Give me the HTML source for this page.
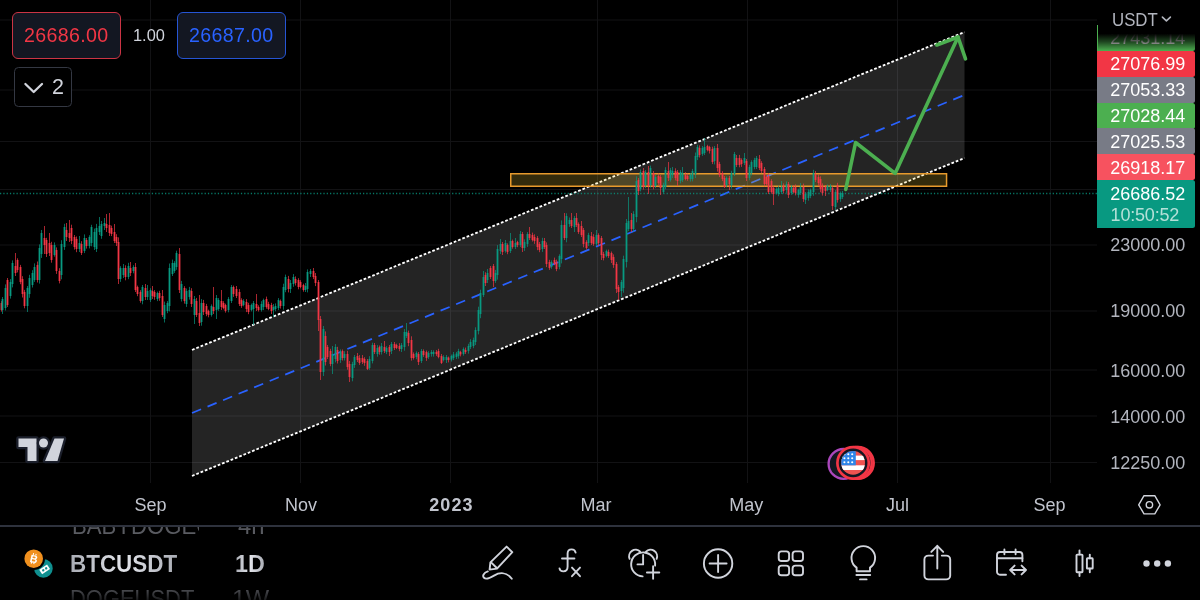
<!DOCTYPE html>
<html lang="en"><head><meta charset="utf-8"><title>BTCUSDT 1D chart</title>
<style>
html,body{margin:0;padding:0;background:#000;}
body{width:1200px;height:600px;overflow:hidden;position:relative;font-family:"Liberation Sans",sans-serif;color:#d1d4dc;}
#chart{position:absolute;left:0;top:0;width:1200px;height:600px;}
.abs{position:absolute;white-space:nowrap;}
.btn{position:absolute;box-sizing:border-box;border-radius:6px;background:#131722;text-align:center;}
.sell{left:12px;top:12px;width:108.5px;height:46.5px;border:1.6px solid #cb3444;color:#f23645;font-size:19.6px;line-height:44px;letter-spacing:0.35px;}
.buy{left:177px;top:12px;width:108.5px;height:46.5px;border:1.6px solid #2655d4;color:#2962ff;font-size:19.6px;line-height:44px;letter-spacing:0.35px;}
.spread{left:133px;top:25.5px;font-size:16.4px;line-height:19px;color:#d1d4dc;}
.coll{left:14px;top:67px;width:58px;height:40px;box-sizing:border-box;border:1.3px solid #343843;border-radius:4.5px;background:#000;}
.coll span{position:absolute;left:37px;top:6.5px;font-size:21.5px;line-height:25px;color:#d1d4dc;}
.plab{position:absolute;left:1097.3px;width:97.3px;border-radius:0 2.5px 2.5px 0;}
.ptxt{position:absolute;font-size:18px;line-height:20px;white-space:nowrap;}
.tl{position:absolute;top:494px;width:80px;text-align:center;font-size:18px;line-height:22px;color:#c1c4cd;}
#bar{position:absolute;left:0;top:527px;width:1200px;height:73px;background:#000;overflow:hidden;}
#sep{position:absolute;left:0;top:525px;width:1200px;height:2px;background:#2e323d;}
.wr{position:absolute;font-size:23.8px;line-height:28px;white-space:nowrap;}
.dim{color:#66686f;}
.sq{display:inline-block;transform-origin:0 0;}
.sel{font-weight:bold;color:#d1d4dc;background:linear-gradient(90deg,#a9acb4 0%,#e4e6ec 50%,#a9acb4 100%);-webkit-background-clip:text;background-clip:text;-webkit-text-fill-color:transparent;}
</style></head><body>
<svg id="chart" viewBox="0 0 1200 600" width="1200" height="600">
<path d="M150.5 0V483" stroke="#121214" stroke-width="1"/><path d="M300.5 0V483" stroke="#121214" stroke-width="1"/><path d="M450.5 0V483" stroke="#121214" stroke-width="1"/><path d="M597.5 0V483" stroke="#121214" stroke-width="1"/><path d="M747.5 0V483" stroke="#121214" stroke-width="1"/><path d="M897.5 0V483" stroke="#121214" stroke-width="1"/><path d="M1050.5 0V483" stroke="#121214" stroke-width="1"/><path d="M0 20H1097" stroke="#121214" stroke-width="1"/><path d="M0 90H1097" stroke="#121214" stroke-width="1"/><path d="M0 141.5H1097" stroke="#121214" stroke-width="1"/><path d="M0 189.5H1097" stroke="#121214" stroke-width="1"/><path d="M0 245H1097" stroke="#121214" stroke-width="1"/><path d="M0 311H1097" stroke="#121214" stroke-width="1"/><path d="M0 370H1097" stroke="#121214" stroke-width="1"/><path d="M0 416H1097" stroke="#121214" stroke-width="1"/><path d="M0 462.5H1097" stroke="#121214" stroke-width="1"/>
<polygon points="192,350 964.5,32 964.5,158 192,476" fill="#ffffff" fill-opacity="0.14"/>
<path d="M192 413.0L964.5 95.0" stroke="#2962ff" stroke-width="1.75" stroke-dasharray="9.8 7.0" fill="none"/>
<path d="M192 350L964.5 32" stroke="#ffffff" stroke-width="1.85" stroke-dasharray="2.75 1.89" fill="none"/>
<path d="M192 476L964.5 158" stroke="#ffffff" stroke-width="1.85" stroke-dasharray="2.75 1.89" fill="none"/>
<rect x="510.75" y="173.75" width="435.8" height="12.5" fill="#ffd83c" fill-opacity="0.2" stroke="#e79a2c" stroke-width="1.5"/>
<path d="M0 193.5H1097" stroke="#089981" stroke-width="1.5" stroke-dasharray="1.25 2.05" fill="none" opacity="0.78"/>
<path d="M2.5 297.0V314.0M5.5 284.4V310.5M10.5 279.1V298.6M12.5 260.4V287.4M27.5 286.0V312.0M29.5 274.8V297.8M32.5 270.2V287.5M34.5 263.4V281.9M39.5 244.4V283.6M41.5 230.0V257.9M54.5 242.4V256.7M61.5 240.2V279.3M64.5 223.8V249.9M79.5 236.0V252.0M84.5 234.4V253.1M89.5 235.2V248.4M91.5 224.8V246.3M94.5 228.6V250.0M96.5 223.9V252.0M99.5 217.0V235.0M101.5 221.0V238.8M104.5 218.0V230.0M120.5 266.2V281.9M123.5 264.0V278.0M128.5 262.8V279.2M133.5 265.2V273.3M142.5 285.0V304.3M147.5 285.0V300.0M150.5 288.2V302.0M157.5 291.6V301.1M164.5 301.6V322.5M167.5 301.1V313.2M169.5 263.5V311.4M172.5 259.6V276.0M174.5 261.2V272.9M176.5 250.7V269.8M181.5 280.9V301.5M186.5 288.5V306.9M189.5 286.9V299.6M194.5 296.0V324.0M201.5 299.1V325.7M211.5 304.4V316.6M216.5 295.0V319.0M218.5 298.1V310.8M228.5 297.1V312.3M231.5 285.0V303.0M243.5 299.2V306.3M251.5 303.6V311.4M253.5 301.0V325.0M261.5 301.2V311.6M263.5 298.6V310.1M273.5 304.0V317.0M275.5 303.4V311.3M278.5 298.1V310.1M283.5 283.7V309.7M285.5 274.6V292.2M290.5 280.0V293.0M293.5 274.1V286.8M305.5 283.0V292.0M307.5 269.4V292.4M310.5 269.0V277.0M323.5 326.0V376.0M332.5 346.0V374.0M335.5 344.1V362.4M340.5 349.4V362.9M344.5 351.2V360.5M352.5 361.8V381.3M354.5 355.0V367.9M369.5 356.2V369.8M372.5 342.7V363.4M377.5 345.1V356.7M381.5 343.0V354.5M386.5 346.2V354.1M391.5 342.0V354.0M401.5 343.0V352.0M404.5 329.1V350.7M406.5 323.0V338.0M416.5 351.4V359.2M421.5 349.0V363.0M428.5 351.2V358.9M431.5 350.0V356.6M433.5 350.3V356.6M443.5 355.2V361.4M446.5 355.0V363.0M451.5 354.6V361.5M453.5 352.0V360.1M456.5 351.9V359.0M458.5 348.8V358.6M463.5 347.4V355.7M468.5 343.8V353.6M470.5 339.2V349.0M473.5 337.6V348.2M475.5 327.3V345.0M478.5 306.7V334.4M480.5 289.7V318.2M483.5 271.0V297.0M487.5 269.0V283.0M495.5 269.9V282.9M497.5 245.1V279.6M500.5 239.0V254.0M505.5 240.0V252.7M510.5 233.0V253.0M515.5 238.0V249.0M520.5 231.0V247.0M524.5 239.3V250.9M527.5 232.1V246.9M542.5 237.8V251.9M551.5 260.4V268.8M559.5 254.3V269.3M561.5 220.4V263.4M566.5 213.3V242.3M569.5 217.5V226.9M574.5 216.0V232.0M588.5 232.8V246.1M596.5 230.0V246.0M606.5 249.6V257.3M621.5 280.0V297.0M623.5 255.7V292.7M626.5 219.0V267.5M628.5 197.0V231.0M633.5 211.2V231.6M636.5 176.3V222.3M640.5 169.4V191.4M645.5 170.0V188.0M650.5 165.6V187.5M655.5 174.9V188.1M663.5 182.7V193.7M665.5 167.2V189.2M670.5 167.9V181.6M672.5 167.0V178.0M680.5 170.1V183.4M682.5 167.0V182.0M690.5 173.0V181.6M692.5 168.9V181.4M695.5 152.5V178.0M697.5 144.8V160.1M702.5 146.0V155.9M704.5 138.0V155.0M714.5 146.0V164.4M726.5 176.4V187.2M731.5 170.8V188.5M734.5 152.0V176.0M744.5 153.0V165.0M749.5 164.8V180.3M751.5 160.3V175.4M754.5 157.8V169.3M756.5 156.0V169.0M776.5 187.3V194.5M778.5 185.7V196.2M781.5 181.0V194.0M786.5 181.4V192.9M791.5 185.0V194.9M798.5 188.7V197.7M800.5 183.0V195.0M805.5 192.0V204.0M808.5 189.4V200.7M810.5 188.5V198.2M813.5 169.8V195.8M827.5 184.5V191.2M830.5 184.0V192.0M835.5 190.0V210.0M840.5 191.5V201.8M842.5 191.0V199.0" stroke="#089981" stroke-width="1" fill="none" opacity="0.7"/><path d="M1.5 301.1V311.6M7.5 278.0V307.0M15.5 253.0V276.0M17.5 258.3V272.4M20.5 264.9V284.2M22.5 276.2V297.5M24.5 289.9V308.3M37.5 261.5V282.5M44.5 226.0V254.0M46.5 237.8V257.0M49.5 233.0V256.0M51.5 241.8V262.7M56.5 247.4V273.9M59.5 268.2V283.4M66.5 223.0V241.0M69.5 220.0V242.0M71.5 224.7V244.1M74.5 235.0V249.6M76.5 236.5V252.2M81.5 241.2V255.0M86.5 238.0V248.6M106.5 214.0V232.0M109.5 213.0V236.0M111.5 225.7V236.1M114.5 224.0V243.0M116.5 234.2V246.0M118.5 237.4V284.0M125.5 265.3V280.3M130.5 262.0V276.0M135.5 263.0V292.0M137.5 285.6V296.2M140.5 290.2V302.7M145.5 284.0V300.0M152.5 286.0V299.0M154.5 290.1V299.8M159.5 290.8V300.8M162.5 290.0V317.0M179.5 248.0V293.0M184.5 286.2V303.6M191.5 288.2V307.0M196.5 297.9V317.0M199.5 295.0V326.0M203.5 299.9V315.0M206.5 303.9V316.2M208.5 309.7V317.3M213.5 287.0V314.0M221.5 290.0V310.0M223.5 301.2V309.3M225.5 303.7V312.6M233.5 285.6V296.9M236.5 286.0V298.0M239.5 289.1V306.0M241.5 298.3V307.9M246.5 299.1V312.1M248.5 302.8V314.2M256.5 294.0V311.0M258.5 305.3V311.5M266.5 296.6V308.7M268.5 301.8V310.2M271.5 302.8V314.0M280.5 299.5V308.6M288.5 275.9V292.4M295.5 276.4V285.5M298.5 278.2V289.3M300.5 280.2V288.3M303.5 283.7V291.7M313.5 268.0V279.1M315.5 273.0V286.1M318.5 280.0V331.0M320.5 316.0V380.0M325.5 331.4V365.5M327.5 345.0V359.0M330.5 348.8V366.2M337.5 346.8V363.5M342.5 349.5V360.5M347.5 350.8V369.7M349.5 361.0V382.0M357.5 353.0V362.0M359.5 355.1V364.9M362.5 355.0V364.0M364.5 357.2V365.8M367.5 359.0V370.0M374.5 343.0V354.0M379.5 345.5V354.7M384.5 341.0V353.0M389.5 345.0V356.0M394.5 342.0V350.0M396.5 343.7V349.1M399.5 343.2V351.2M408.5 330.6V346.2M411.5 336.3V360.6M413.5 352.4V359.6M418.5 352.0V365.0M423.5 349.4V356.9M426.5 350.5V360.9M436.5 350.1V355.9M438.5 348.8V358.3M441.5 354.0V364.0M448.5 356.6V362.4M460.5 350.8V356.4M465.5 347.6V353.9M485.5 272.3V286.0M490.5 266.0V279.0M493.5 264.0V287.0M502.5 242.0V255.0M507.5 243.4V254.2M512.5 239.6V248.7M517.5 240.8V247.2M522.5 232.0V252.0M529.5 227.0V240.0M532.5 232.6V241.5M534.5 234.3V243.9M537.5 236.1V250.2M539.5 242.0V252.2M544.5 238.0V249.0M546.5 242.4V267.1M549.5 259.8V269.9M554.5 257.6V265.2M556.5 259.6V271.2M564.5 213.0V240.0M571.5 213.0V228.0M576.5 213.0V227.0M578.5 222.4V233.9M581.5 221.0V237.0M583.5 228.0V247.3M586.5 240.2V249.5M591.5 232.0V245.0M593.5 234.2V245.8M598.5 233.3V246.1M601.5 236.0V260.0M603.5 251.9V260.4M608.5 249.6V257.9M611.5 251.5V263.0M613.5 254.4V267.9M616.5 262.0V293.0M618.5 285.0V300.0M631.5 213.0V232.0M638.5 178.0V195.0M643.5 168.0V189.5M648.5 166.0V194.0M653.5 171.0V189.3M658.5 173.3V184.9M660.5 175.0V195.0M668.5 162.0V181.0M675.5 168.3V180.4M677.5 170.0V186.0M685.5 172.2V180.3M687.5 173.5V180.8M699.5 145.4V157.5M707.5 144.8V151.4M709.5 145.8V153.5M712.5 146.7V164.1M717.5 144.0V171.6M719.5 161.8V177.1M722.5 171.2V181.1M724.5 176.0V188.0M729.5 176.0V190.0M736.5 155.0V167.0M739.5 154.9V167.3M741.5 158.4V166.9M746.5 159.0V181.0M759.5 155.0V170.0M761.5 161.2V173.3M764.5 167.0V186.5M766.5 175.5V186.1M768.5 173.0V194.0M771.5 179.2V193.7M773.5 186.0V205.0M783.5 183.4V193.4M788.5 182.0V198.0M793.5 185.1V193.4M795.5 184.4V195.4M803.5 183.6V201.9M815.5 171.0V182.0M818.5 174.3V185.8M820.5 176.3V192.2M822.5 183.4V195.6M825.5 185.0V196.0M832.5 186.0V210.0M837.5 182.8V202.6" stroke="#f23645" stroke-width="1" fill="none" opacity="0.7"/><rect x="0.60" y="303.0" width="1.8" height="7.0" fill="#f23645"/><rect x="1.60" y="299.0" width="1.8" height="11.0" fill="#089981"/><rect x="4.60" y="288.0" width="1.8" height="20.0" fill="#089981"/><rect x="6.60" y="280.0" width="1.8" height="25.0" fill="#f23645"/><rect x="9.60" y="282.0" width="1.8" height="14.0" fill="#089981"/><rect x="11.60" y="263.0" width="1.8" height="21.0" fill="#089981"/><rect x="14.60" y="266.0" width="1.8" height="7.0" fill="#f23645"/><rect x="16.60" y="260.0" width="1.8" height="10.0" fill="#f23645"/><rect x="19.60" y="267.0" width="1.8" height="15.0" fill="#f23645"/><rect x="21.60" y="279.0" width="1.8" height="15.0" fill="#f23645"/><rect x="23.60" y="292.0" width="1.8" height="14.0" fill="#f23645"/><rect x="26.60" y="288.0" width="1.8" height="18.0" fill="#089981"/><rect x="28.60" y="278.0" width="1.8" height="16.0" fill="#089981"/><rect x="31.60" y="273.0" width="1.8" height="12.0" fill="#089981"/><rect x="33.60" y="267.0" width="1.8" height="13.0" fill="#089981"/><rect x="36.60" y="265.0" width="1.8" height="15.0" fill="#f23645"/><rect x="38.60" y="248.0" width="1.8" height="32.0" fill="#089981"/><rect x="40.60" y="233.0" width="1.8" height="21.0" fill="#089981"/><rect x="43.60" y="238.0" width="1.8" height="7.0" fill="#f23645"/><rect x="45.60" y="240.0" width="1.8" height="14.0" fill="#f23645"/><rect x="48.60" y="243.0" width="1.8" height="10.0" fill="#f23645"/><rect x="50.60" y="245.0" width="1.8" height="15.0" fill="#f23645"/><rect x="53.60" y="245.0" width="1.8" height="10.0" fill="#089981"/><rect x="55.60" y="250.0" width="1.8" height="21.0" fill="#f23645"/><rect x="58.60" y="271.0" width="1.8" height="10.0" fill="#f23645"/><rect x="60.60" y="244.0" width="1.8" height="31.0" fill="#089981"/><rect x="63.60" y="227.0" width="1.8" height="20.0" fill="#089981"/><rect x="65.60" y="230.0" width="1.8" height="7.0" fill="#f23645"/><rect x="68.60" y="233.0" width="1.8" height="5.0" fill="#f23645"/><rect x="70.60" y="228.0" width="1.8" height="13.0" fill="#f23645"/><rect x="73.60" y="237.0" width="1.8" height="10.0" fill="#f23645"/><rect x="75.60" y="239.0" width="1.8" height="10.0" fill="#f23645"/><rect x="78.60" y="243.0" width="1.8" height="6.0" fill="#089981"/><rect x="80.60" y="244.0" width="1.8" height="9.0" fill="#f23645"/><rect x="83.60" y="238.0" width="1.8" height="13.0" fill="#089981"/><rect x="85.60" y="240.0" width="1.8" height="6.0" fill="#f23645"/><rect x="88.60" y="237.0" width="1.8" height="9.0" fill="#089981"/><rect x="90.60" y="227.0" width="1.8" height="16.0" fill="#089981"/><rect x="93.60" y="232.0" width="1.8" height="15.0" fill="#089981"/><rect x="95.60" y="228.0" width="1.8" height="21.0" fill="#089981"/><rect x="98.60" y="226.0" width="1.8" height="6.0" fill="#089981"/><rect x="100.60" y="224.0" width="1.8" height="12.0" fill="#089981"/><rect x="103.60" y="223.0" width="1.8" height="3.0" fill="#089981"/><rect x="105.60" y="224.0" width="1.8" height="4.0" fill="#f23645"/><rect x="108.60" y="225.0" width="1.8" height="8.0" fill="#f23645"/><rect x="110.60" y="228.0" width="1.8" height="6.0" fill="#f23645"/><rect x="113.60" y="232.0" width="1.8" height="9.0" fill="#f23645"/><rect x="115.60" y="237.0" width="1.8" height="6.0" fill="#f23645"/><rect x="117.60" y="242.0" width="1.8" height="37.0" fill="#f23645"/><rect x="119.60" y="268.0" width="1.8" height="11.0" fill="#089981"/><rect x="122.60" y="268.0" width="1.8" height="7.0" fill="#089981"/><rect x="124.60" y="268.0" width="1.8" height="9.0" fill="#f23645"/><rect x="127.60" y="266.0" width="1.8" height="11.0" fill="#089981"/><rect x="129.60" y="268.0" width="1.8" height="5.0" fill="#f23645"/><rect x="132.60" y="267.0" width="1.8" height="4.0" fill="#089981"/><rect x="134.60" y="267.0" width="1.8" height="23.0" fill="#f23645"/><rect x="136.60" y="287.0" width="1.8" height="7.0" fill="#f23645"/><rect x="139.60" y="292.0" width="1.8" height="9.0" fill="#f23645"/><rect x="141.60" y="287.0" width="1.8" height="14.0" fill="#089981"/><rect x="144.60" y="288.0" width="1.8" height="9.0" fill="#f23645"/><rect x="146.60" y="291.0" width="1.8" height="6.0" fill="#089981"/><rect x="149.60" y="290.0" width="1.8" height="10.0" fill="#089981"/><rect x="151.60" y="291.0" width="1.8" height="5.0" fill="#f23645"/><rect x="153.60" y="292.0" width="1.8" height="5.0" fill="#f23645"/><rect x="156.60" y="293.0" width="1.8" height="6.0" fill="#089981"/><rect x="158.60" y="293.0" width="1.8" height="5.0" fill="#f23645"/><rect x="161.60" y="296.0" width="1.8" height="19.0" fill="#f23645"/><rect x="163.60" y="305.0" width="1.8" height="14.0" fill="#089981"/><rect x="166.60" y="303.0" width="1.8" height="8.0" fill="#089981"/><rect x="168.60" y="268.0" width="1.8" height="38.0" fill="#089981"/><rect x="171.60" y="263.0" width="1.8" height="11.0" fill="#089981"/><rect x="173.60" y="263.0" width="1.8" height="8.0" fill="#089981"/><rect x="175.60" y="253.0" width="1.8" height="14.0" fill="#089981"/><rect x="178.60" y="254.0" width="1.8" height="36.0" fill="#f23645"/><rect x="180.60" y="284.0" width="1.8" height="15.0" fill="#089981"/><rect x="183.60" y="288.0" width="1.8" height="13.0" fill="#f23645"/><rect x="185.60" y="291.0" width="1.8" height="13.0" fill="#089981"/><rect x="188.60" y="290.0" width="1.8" height="7.0" fill="#089981"/><rect x="190.60" y="291.0" width="1.8" height="13.0" fill="#f23645"/><rect x="193.60" y="299.0" width="1.8" height="16.0" fill="#089981"/><rect x="195.60" y="301.0" width="1.8" height="14.0" fill="#f23645"/><rect x="198.60" y="313.0" width="1.8" height="10.0" fill="#f23645"/><rect x="200.60" y="303.0" width="1.8" height="19.0" fill="#089981"/><rect x="202.60" y="303.0" width="1.8" height="9.0" fill="#f23645"/><rect x="205.60" y="306.0" width="1.8" height="8.0" fill="#f23645"/><rect x="207.60" y="311.0" width="1.8" height="4.0" fill="#f23645"/><rect x="210.60" y="306.0" width="1.8" height="9.0" fill="#089981"/><rect x="212.60" y="307.0" width="1.8" height="4.0" fill="#f23645"/><rect x="215.60" y="298.0" width="1.8" height="12.0" fill="#089981"/><rect x="217.60" y="300.0" width="1.8" height="9.0" fill="#089981"/><rect x="220.60" y="301.0" width="1.8" height="6.0" fill="#f23645"/><rect x="222.60" y="303.0" width="1.8" height="5.0" fill="#f23645"/><rect x="224.60" y="305.0" width="1.8" height="6.0" fill="#f23645"/><rect x="227.60" y="299.0" width="1.8" height="11.0" fill="#089981"/><rect x="230.60" y="287.0" width="1.8" height="14.0" fill="#089981"/><rect x="232.60" y="287.0" width="1.8" height="7.0" fill="#f23645"/><rect x="235.60" y="289.0" width="1.8" height="7.0" fill="#f23645"/><rect x="238.60" y="292.0" width="1.8" height="12.0" fill="#f23645"/><rect x="240.60" y="300.0" width="1.8" height="6.0" fill="#f23645"/><rect x="242.60" y="301.0" width="1.8" height="4.0" fill="#089981"/><rect x="245.60" y="302.0" width="1.8" height="7.0" fill="#f23645"/><rect x="247.60" y="305.0" width="1.8" height="7.0" fill="#f23645"/><rect x="250.60" y="305.0" width="1.8" height="5.0" fill="#089981"/><rect x="252.60" y="303.0" width="1.8" height="6.0" fill="#089981"/><rect x="255.60" y="304.0" width="1.8" height="4.0" fill="#f23645"/><rect x="257.60" y="307.0" width="1.8" height="3.0" fill="#f23645"/><rect x="260.60" y="304.0" width="1.8" height="6.0" fill="#089981"/><rect x="262.60" y="300.0" width="1.8" height="7.0" fill="#089981"/><rect x="265.60" y="299.0" width="1.8" height="8.0" fill="#f23645"/><rect x="267.60" y="304.0" width="1.8" height="5.0" fill="#f23645"/><rect x="270.60" y="305.0" width="1.8" height="6.0" fill="#f23645"/><rect x="272.60" y="307.0" width="1.8" height="3.0" fill="#089981"/><rect x="274.60" y="306.0" width="1.8" height="3.0" fill="#089981"/><rect x="277.60" y="300.0" width="1.8" height="8.0" fill="#089981"/><rect x="279.60" y="301.0" width="1.8" height="5.0" fill="#f23645"/><rect x="282.60" y="287.0" width="1.8" height="19.0" fill="#089981"/><rect x="284.60" y="277.0" width="1.8" height="13.0" fill="#089981"/><rect x="287.60" y="279.0" width="1.8" height="10.0" fill="#f23645"/><rect x="289.60" y="283.0" width="1.8" height="6.0" fill="#089981"/><rect x="292.60" y="277.0" width="1.8" height="7.0" fill="#089981"/><rect x="294.60" y="279.0" width="1.8" height="4.0" fill="#f23645"/><rect x="297.60" y="280.0" width="1.8" height="7.0" fill="#f23645"/><rect x="299.60" y="282.0" width="1.8" height="5.0" fill="#f23645"/><rect x="302.60" y="285.0" width="1.8" height="5.0" fill="#f23645"/><rect x="304.60" y="286.0" width="1.8" height="4.0" fill="#089981"/><rect x="306.60" y="272.0" width="1.8" height="17.0" fill="#089981"/><rect x="309.60" y="271.0" width="1.8" height="3.0" fill="#089981"/><rect x="312.60" y="271.0" width="1.8" height="6.0" fill="#f23645"/><rect x="314.60" y="276.0" width="1.8" height="7.0" fill="#f23645"/><rect x="317.60" y="282.0" width="1.8" height="38.0" fill="#f23645"/><rect x="319.60" y="319.0" width="1.8" height="53.0" fill="#f23645"/><rect x="322.60" y="329.0" width="1.8" height="43.0" fill="#089981"/><rect x="324.60" y="336.0" width="1.8" height="26.0" fill="#f23645"/><rect x="326.60" y="347.0" width="1.8" height="10.0" fill="#f23645"/><rect x="329.60" y="351.0" width="1.8" height="13.0" fill="#f23645"/><rect x="331.60" y="354.0" width="1.8" height="10.0" fill="#089981"/><rect x="334.60" y="347.0" width="1.8" height="12.0" fill="#089981"/><rect x="336.60" y="350.0" width="1.8" height="11.0" fill="#f23645"/><rect x="339.60" y="352.0" width="1.8" height="8.0" fill="#089981"/><rect x="341.60" y="351.0" width="1.8" height="7.0" fill="#f23645"/><rect x="343.60" y="354.0" width="1.8" height="4.0" fill="#089981"/><rect x="346.60" y="354.0" width="1.8" height="13.0" fill="#f23645"/><rect x="348.60" y="364.0" width="1.8" height="13.0" fill="#f23645"/><rect x="351.60" y="364.0" width="1.8" height="14.0" fill="#089981"/><rect x="353.60" y="357.0" width="1.8" height="8.0" fill="#089981"/><rect x="356.60" y="356.0" width="1.8" height="4.0" fill="#f23645"/><rect x="358.60" y="358.0" width="1.8" height="5.0" fill="#f23645"/><rect x="361.60" y="358.0" width="1.8" height="4.0" fill="#f23645"/><rect x="363.60" y="359.0" width="1.8" height="4.0" fill="#f23645"/><rect x="366.60" y="361.0" width="1.8" height="8.0" fill="#f23645"/><rect x="368.60" y="359.0" width="1.8" height="9.0" fill="#089981"/><rect x="371.60" y="345.0" width="1.8" height="16.0" fill="#089981"/><rect x="373.60" y="345.0" width="1.8" height="7.0" fill="#f23645"/><rect x="376.60" y="348.0" width="1.8" height="6.0" fill="#089981"/><rect x="378.60" y="347.0" width="1.8" height="5.0" fill="#f23645"/><rect x="380.60" y="346.0" width="1.8" height="6.0" fill="#089981"/><rect x="383.60" y="347.0" width="1.8" height="4.0" fill="#f23645"/><rect x="385.60" y="348.0" width="1.8" height="4.0" fill="#089981"/><rect x="388.60" y="347.0" width="1.8" height="5.0" fill="#f23645"/><rect x="390.60" y="344.0" width="1.8" height="7.0" fill="#089981"/><rect x="393.60" y="344.0" width="1.8" height="4.0" fill="#f23645"/><rect x="395.60" y="345.0" width="1.8" height="3.0" fill="#f23645"/><rect x="398.60" y="346.0" width="1.8" height="3.0" fill="#f23645"/><rect x="400.60" y="345.0" width="1.8" height="4.0" fill="#089981"/><rect x="403.60" y="332.0" width="1.8" height="15.0" fill="#089981"/><rect x="405.60" y="332.0" width="1.8" height="4.0" fill="#089981"/><rect x="407.60" y="333.0" width="1.8" height="10.0" fill="#f23645"/><rect x="410.60" y="340.0" width="1.8" height="18.0" fill="#f23645"/><rect x="412.60" y="354.0" width="1.8" height="4.0" fill="#f23645"/><rect x="415.60" y="353.0" width="1.8" height="4.0" fill="#089981"/><rect x="417.60" y="354.0" width="1.8" height="8.0" fill="#f23645"/><rect x="420.60" y="351.0" width="1.8" height="10.0" fill="#089981"/><rect x="422.60" y="351.0" width="1.8" height="4.0" fill="#f23645"/><rect x="425.60" y="352.0" width="1.8" height="6.0" fill="#f23645"/><rect x="427.60" y="353.0" width="1.8" height="4.0" fill="#089981"/><rect x="430.60" y="352.0" width="1.8" height="2.0" fill="#089981"/><rect x="432.60" y="352.0" width="1.8" height="2.0" fill="#089981"/><rect x="435.60" y="352.0" width="1.8" height="2.0" fill="#f23645"/><rect x="437.60" y="351.0" width="1.8" height="6.0" fill="#f23645"/><rect x="440.60" y="356.0" width="1.8" height="7.0" fill="#f23645"/><rect x="442.60" y="357.0" width="1.8" height="3.0" fill="#089981"/><rect x="445.60" y="357.0" width="1.8" height="3.0" fill="#089981"/><rect x="447.60" y="357.6" width="1.8" height="2.4" fill="#f23645"/><rect x="450.60" y="356.0" width="1.8" height="3.6" fill="#089981"/><rect x="452.60" y="354.4" width="1.8" height="3.6" fill="#089981"/><rect x="455.60" y="353.6" width="1.8" height="3.4" fill="#089981"/><rect x="457.60" y="351.0" width="1.8" height="5.0" fill="#089981"/><rect x="459.60" y="352.0" width="1.8" height="2.4" fill="#f23645"/><rect x="462.60" y="349.0" width="1.8" height="5.0" fill="#089981"/><rect x="464.60" y="350.0" width="1.8" height="2.0" fill="#f23645"/><rect x="467.60" y="346.0" width="1.8" height="5.0" fill="#089981"/><rect x="469.60" y="342.0" width="1.8" height="5.0" fill="#089981"/><rect x="472.60" y="340.0" width="1.8" height="6.0" fill="#089981"/><rect x="474.60" y="330.0" width="1.8" height="12.0" fill="#089981"/><rect x="477.60" y="310.0" width="1.8" height="21.0" fill="#089981"/><rect x="479.60" y="293.0" width="1.8" height="21.0" fill="#089981"/><rect x="482.60" y="277.0" width="1.8" height="18.0" fill="#089981"/><rect x="484.60" y="275.0" width="1.8" height="8.0" fill="#f23645"/><rect x="486.60" y="273.0" width="1.8" height="7.0" fill="#089981"/><rect x="489.60" y="268.0" width="1.8" height="9.0" fill="#f23645"/><rect x="492.60" y="266.0" width="1.8" height="15.0" fill="#f23645"/><rect x="494.60" y="273.0" width="1.8" height="8.0" fill="#089981"/><rect x="496.60" y="249.0" width="1.8" height="26.0" fill="#089981"/><rect x="499.60" y="244.0" width="1.8" height="7.0" fill="#089981"/><rect x="501.60" y="244.0" width="1.8" height="8.0" fill="#f23645"/><rect x="504.60" y="243.0" width="1.8" height="8.0" fill="#089981"/><rect x="506.60" y="245.0" width="1.8" height="7.0" fill="#f23645"/><rect x="509.60" y="241.0" width="1.8" height="10.0" fill="#089981"/><rect x="511.60" y="241.0" width="1.8" height="6.0" fill="#f23645"/><rect x="514.60" y="243.0" width="1.8" height="4.0" fill="#089981"/><rect x="516.60" y="242.0" width="1.8" height="3.0" fill="#f23645"/><rect x="519.60" y="234.0" width="1.8" height="11.0" fill="#089981"/><rect x="521.60" y="234.0" width="1.8" height="14.0" fill="#f23645"/><rect x="523.60" y="242.0" width="1.8" height="6.0" fill="#089981"/><rect x="526.60" y="234.0" width="1.8" height="10.0" fill="#089981"/><rect x="528.60" y="234.0" width="1.8" height="4.0" fill="#f23645"/><rect x="531.60" y="235.0" width="1.8" height="5.0" fill="#f23645"/><rect x="533.60" y="237.0" width="1.8" height="4.0" fill="#f23645"/><rect x="536.60" y="238.0" width="1.8" height="9.0" fill="#f23645"/><rect x="538.60" y="244.0" width="1.8" height="6.0" fill="#f23645"/><rect x="541.60" y="241.0" width="1.8" height="8.0" fill="#089981"/><rect x="543.60" y="241.0" width="1.8" height="6.0" fill="#f23645"/><rect x="545.60" y="245.0" width="1.8" height="19.0" fill="#f23645"/><rect x="548.60" y="262.0" width="1.8" height="6.0" fill="#f23645"/><rect x="550.60" y="262.0" width="1.8" height="5.0" fill="#089981"/><rect x="553.60" y="260.0" width="1.8" height="4.0" fill="#f23645"/><rect x="555.60" y="262.0" width="1.8" height="7.0" fill="#f23645"/><rect x="558.60" y="256.0" width="1.8" height="11.0" fill="#089981"/><rect x="560.60" y="225.0" width="1.8" height="34.0" fill="#089981"/><rect x="563.60" y="225.0" width="1.8" height="13.0" fill="#f23645"/><rect x="565.60" y="216.0" width="1.8" height="22.0" fill="#089981"/><rect x="568.60" y="220.0" width="1.8" height="4.0" fill="#089981"/><rect x="570.60" y="220.0" width="1.8" height="6.0" fill="#f23645"/><rect x="573.60" y="218.0" width="1.8" height="9.0" fill="#089981"/><rect x="575.60" y="218.0" width="1.8" height="7.0" fill="#f23645"/><rect x="577.60" y="224.0" width="1.8" height="8.0" fill="#f23645"/><rect x="580.60" y="226.0" width="1.8" height="9.0" fill="#f23645"/><rect x="582.60" y="230.0" width="1.8" height="14.0" fill="#f23645"/><rect x="585.60" y="242.0" width="1.8" height="6.0" fill="#f23645"/><rect x="587.60" y="235.0" width="1.8" height="8.0" fill="#089981"/><rect x="590.60" y="236.0" width="1.8" height="7.0" fill="#f23645"/><rect x="592.60" y="237.0" width="1.8" height="7.0" fill="#f23645"/><rect x="595.60" y="235.0" width="1.8" height="9.0" fill="#089981"/><rect x="597.60" y="235.0" width="1.8" height="8.0" fill="#f23645"/><rect x="600.60" y="238.0" width="1.8" height="17.0" fill="#f23645"/><rect x="602.60" y="254.0" width="1.8" height="4.0" fill="#f23645"/><rect x="605.60" y="251.0" width="1.8" height="5.0" fill="#089981"/><rect x="607.60" y="252.0" width="1.8" height="4.0" fill="#f23645"/><rect x="610.60" y="253.0" width="1.8" height="7.0" fill="#f23645"/><rect x="612.60" y="257.0" width="1.8" height="8.0" fill="#f23645"/><rect x="615.60" y="264.0" width="1.8" height="25.0" fill="#f23645"/><rect x="617.60" y="287.0" width="1.8" height="5.0" fill="#f23645"/><rect x="620.60" y="282.0" width="1.8" height="9.0" fill="#089981"/><rect x="622.60" y="259.0" width="1.8" height="29.0" fill="#089981"/><rect x="625.60" y="223.0" width="1.8" height="39.0" fill="#089981"/><rect x="627.60" y="221.0" width="1.8" height="8.0" fill="#089981"/><rect x="630.60" y="220.0" width="1.8" height="9.0" fill="#f23645"/><rect x="632.60" y="214.0" width="1.8" height="15.0" fill="#089981"/><rect x="635.60" y="181.0" width="1.8" height="36.0" fill="#089981"/><rect x="637.60" y="180.0" width="1.8" height="11.0" fill="#f23645"/><rect x="639.60" y="172.0" width="1.8" height="17.0" fill="#089981"/><rect x="642.60" y="171.0" width="1.8" height="16.0" fill="#f23645"/><rect x="644.60" y="172.0" width="1.8" height="13.0" fill="#089981"/><rect x="647.60" y="172.0" width="1.8" height="14.0" fill="#f23645"/><rect x="649.60" y="168.0" width="1.8" height="17.0" fill="#089981"/><rect x="652.60" y="173.0" width="1.8" height="14.0" fill="#f23645"/><rect x="654.60" y="177.0" width="1.8" height="9.0" fill="#089981"/><rect x="657.60" y="176.0" width="1.8" height="7.0" fill="#f23645"/><rect x="659.60" y="177.0" width="1.8" height="11.0" fill="#f23645"/><rect x="662.60" y="185.0" width="1.8" height="7.0" fill="#089981"/><rect x="664.60" y="170.0" width="1.8" height="17.0" fill="#089981"/><rect x="667.60" y="171.0" width="1.8" height="7.0" fill="#f23645"/><rect x="669.60" y="170.0" width="1.8" height="10.0" fill="#089981"/><rect x="671.60" y="171.0" width="1.8" height="4.0" fill="#089981"/><rect x="674.60" y="171.0" width="1.8" height="7.0" fill="#f23645"/><rect x="676.60" y="172.0" width="1.8" height="9.0" fill="#f23645"/><rect x="679.60" y="172.0" width="1.8" height="9.0" fill="#089981"/><rect x="681.60" y="173.0" width="1.8" height="7.0" fill="#089981"/><rect x="684.60" y="175.0" width="1.8" height="4.0" fill="#f23645"/><rect x="686.60" y="176.0" width="1.8" height="3.0" fill="#f23645"/><rect x="689.60" y="175.0" width="1.8" height="4.0" fill="#089981"/><rect x="691.60" y="171.0" width="1.8" height="8.0" fill="#089981"/><rect x="694.60" y="156.0" width="1.8" height="18.0" fill="#089981"/><rect x="696.60" y="147.0" width="1.8" height="10.0" fill="#089981"/><rect x="698.60" y="148.0" width="1.8" height="7.0" fill="#f23645"/><rect x="701.60" y="148.0" width="1.8" height="6.0" fill="#089981"/><rect x="703.60" y="147.0" width="1.8" height="6.0" fill="#089981"/><rect x="706.60" y="146.0" width="1.8" height="4.0" fill="#f23645"/><rect x="708.60" y="147.0" width="1.8" height="4.0" fill="#f23645"/><rect x="711.60" y="149.0" width="1.8" height="13.0" fill="#f23645"/><rect x="713.60" y="148.0" width="1.8" height="13.0" fill="#089981"/><rect x="716.60" y="148.0" width="1.8" height="20.0" fill="#f23645"/><rect x="718.60" y="164.0" width="1.8" height="11.0" fill="#f23645"/><rect x="721.60" y="173.0" width="1.8" height="6.0" fill="#f23645"/><rect x="723.60" y="178.0" width="1.8" height="9.0" fill="#f23645"/><rect x="725.60" y="178.0" width="1.8" height="7.0" fill="#089981"/><rect x="728.60" y="178.0" width="1.8" height="6.0" fill="#f23645"/><rect x="730.60" y="173.0" width="1.8" height="12.0" fill="#089981"/><rect x="733.60" y="154.0" width="1.8" height="20.0" fill="#089981"/><rect x="735.60" y="158.0" width="1.8" height="7.0" fill="#f23645"/><rect x="738.60" y="158.0" width="1.8" height="7.0" fill="#f23645"/><rect x="740.60" y="160.0" width="1.8" height="4.0" fill="#f23645"/><rect x="743.60" y="158.0" width="1.8" height="5.0" fill="#089981"/><rect x="745.60" y="161.0" width="1.8" height="17.0" fill="#f23645"/><rect x="748.60" y="167.0" width="1.8" height="11.0" fill="#089981"/><rect x="750.60" y="162.0" width="1.8" height="11.0" fill="#089981"/><rect x="753.60" y="160.0" width="1.8" height="7.0" fill="#089981"/><rect x="755.60" y="158.0" width="1.8" height="9.0" fill="#089981"/><rect x="758.60" y="159.0" width="1.8" height="9.0" fill="#f23645"/><rect x="760.60" y="163.0" width="1.8" height="8.0" fill="#f23645"/><rect x="763.60" y="169.0" width="1.8" height="15.0" fill="#f23645"/><rect x="765.60" y="177.0" width="1.8" height="7.0" fill="#f23645"/><rect x="767.60" y="176.0" width="1.8" height="16.0" fill="#f23645"/><rect x="770.60" y="181.0" width="1.8" height="11.0" fill="#f23645"/><rect x="772.60" y="188.0" width="1.8" height="6.0" fill="#f23645"/><rect x="775.60" y="189.0" width="1.8" height="4.0" fill="#089981"/><rect x="777.60" y="188.0" width="1.8" height="6.0" fill="#089981"/><rect x="780.60" y="187.0" width="1.8" height="5.0" fill="#089981"/><rect x="782.60" y="186.0" width="1.8" height="5.0" fill="#f23645"/><rect x="785.60" y="184.0" width="1.8" height="6.0" fill="#089981"/><rect x="787.60" y="184.0" width="1.8" height="11.0" fill="#f23645"/><rect x="790.60" y="187.0" width="1.8" height="6.0" fill="#089981"/><rect x="792.60" y="188.0" width="1.8" height="4.0" fill="#f23645"/><rect x="794.60" y="187.0" width="1.8" height="6.0" fill="#f23645"/><rect x="797.60" y="190.0" width="1.8" height="5.0" fill="#089981"/><rect x="799.60" y="187.0" width="1.8" height="6.0" fill="#089981"/><rect x="802.60" y="187.0" width="1.8" height="12.0" fill="#f23645"/><rect x="804.60" y="194.0" width="1.8" height="6.0" fill="#089981"/><rect x="807.60" y="192.0" width="1.8" height="6.0" fill="#089981"/><rect x="809.60" y="190.0" width="1.8" height="6.0" fill="#089981"/><rect x="812.60" y="173.0" width="1.8" height="19.0" fill="#089981"/><rect x="814.60" y="174.0" width="1.8" height="6.0" fill="#f23645"/><rect x="817.60" y="177.0" width="1.8" height="6.0" fill="#f23645"/><rect x="819.60" y="179.0" width="1.8" height="10.0" fill="#f23645"/><rect x="821.60" y="186.0" width="1.8" height="7.0" fill="#f23645"/><rect x="824.60" y="187.0" width="1.8" height="4.0" fill="#f23645"/><rect x="826.60" y="186.0" width="1.8" height="4.0" fill="#089981"/><rect x="829.60" y="186.0" width="1.8" height="4.0" fill="#089981"/><rect x="831.60" y="188.0" width="1.8" height="18.0" fill="#f23645"/><rect x="834.60" y="192.0" width="1.8" height="15.0" fill="#089981"/><rect x="836.60" y="185.0" width="1.8" height="15.0" fill="#f23645"/><rect x="839.60" y="193.0" width="1.8" height="6.0" fill="#089981"/><rect x="841.60" y="193.0" width="1.8" height="4.0" fill="#089981"/>
<path d="M845.75 189.4L855.6 142.5L895.2 173.3L958 37" stroke="#4caf50" stroke-width="3.6" fill="none" stroke-linejoin="round" stroke-linecap="round"/>
<path d="M936.8 45L958 37L965.5 58.8" stroke="#4caf50" stroke-width="3.6" fill="none" stroke-linejoin="round" stroke-linecap="round"/>
<g fill="#d1d4dc" stroke="#1b1f2b" stroke-width="4.6" stroke-linejoin="round" paint-order="stroke">
<path d="M18.5 438.5H36.5V461H27.5V447H18.5Z"/>
<circle cx="43.5" cy="443" r="4.5"/>
<path d="M54.5 438.5H64L57.5 461H45Z"/>
</g>
<g>
<circle cx="843.5" cy="463.9" r="14.9" fill="#131722" stroke="#ab47bc" stroke-width="2.3"/>
<circle cx="857.9" cy="462.9" r="15.8" fill="#131722" stroke="#f23645" stroke-width="2.5"/>
<circle cx="855.9" cy="462.9" r="15.8" fill="#131722" stroke="#f23645" stroke-width="2.5"/>
<circle cx="853.1" cy="462.9" r="15.7" fill="#131722" stroke="#f23645" stroke-width="2.7"/>
<clipPath id="fc"><circle cx="853.1" cy="462.9" r="11.9"/></clipPath>
<g clip-path="url(#fc)">
<rect x="840" y="450" width="27" height="26" fill="#ef5350"/>
<rect x="840" y="455.6" width="27" height="4.5" fill="#fff"/>
<rect x="840" y="465.3" width="27" height="4.7" fill="#fff"/>
<rect x="840" y="450" width="15.8" height="15.3" fill="#2f86e8"/>
<g fill="#fff">
<circle cx="844.4" cy="454.2" r="1.05"/><circle cx="848.3" cy="454.2" r="1.05"/><circle cx="852.2" cy="454.2" r="1.05"/>
<circle cx="844.4" cy="458.2" r="1.05"/><circle cx="848.3" cy="458.2" r="1.05"/><circle cx="852.2" cy="458.2" r="1.05"/>
<circle cx="844.4" cy="462.2" r="1.05"/><circle cx="848.3" cy="462.2" r="1.05"/><circle cx="852.2" cy="462.2" r="1.05"/>
</g></g></g>
<g fill="none" stroke="#d1d4dc" stroke-width="1.4" stroke-linejoin="round">
<path d="M1138.7 504.8L1144 495.7H1154.8L1160.1 504.8L1154.8 513.9H1144Z"/>
<circle cx="1149.4" cy="504.8" r="3.2"/></g>
</svg>

<div class="btn sell">26686.00</div>
<div class="abs spread">1.00</div>
<div class="btn buy">26687.00</div>
<div class="abs coll"><svg class="abs" style="left:7px;top:12px" width="24" height="16" viewBox="0 0 24 16"><path d="M3.4 4L11.7 12L20 4" fill="none" stroke="#d1d4dc" stroke-width="2.3" stroke-linecap="round" stroke-linejoin="round"/></svg><span>2</span></div>

<!-- price axis -->
<div class="abs" style="left:1096.5px;top:24.5px;width:1.6px;height:26.3px;background:#4caf50;"></div>
<div class="plab" style="top:24.95px;height:25.85px;background:#4caf50;"></div>
<div class="ptxt" style="left:1110.2px;top:28.45px;color:#fff;">27431.14</div>
<div class="abs" style="left:1098.2px;top:0px;width:101.8px;height:50.8px;background:linear-gradient(180deg,#000 0%,#000 66%,rgba(0,0,0,0.6) 82%,rgba(0,0,0,0) 100%);"></div>
<div class="abs" style="left:1112px;top:9px;font-size:19.1px;line-height:22px;color:#b2b5be;transform:scaleX(0.88);transform-origin:0 0;">USDT</div>
<svg class="abs" style="left:1160px;top:14.4px" width="14" height="10" viewBox="0 0 14 10"><path d="M2.4 3.1L6.4 6.9L10.4 3.1" fill="none" stroke="#b2b5be" stroke-width="1.6" stroke-linecap="round" stroke-linejoin="round"/></svg>
<div class="plab" style="top:50.80px;height:26.15px;background:#f23645;"></div>
<div class="ptxt" style="left:1110.2px;top:54.30px;color:#fff;">27076.99</div>
<div class="plab" style="top:76.65px;height:26.15px;background:#787b86;"></div>
<div class="ptxt" style="left:1110.2px;top:80.15px;color:#fff;">27053.33</div>
<div class="plab" style="top:102.50px;height:26.15px;background:#4caf50;"></div>
<div class="ptxt" style="left:1110.2px;top:106.00px;color:#fff;">27028.44</div>
<div class="plab" style="top:128.35px;height:26.15px;background:#787b86;"></div>
<div class="ptxt" style="left:1110.2px;top:131.85px;color:#fff;">27025.53</div>
<div class="plab" style="top:154.20px;height:26.15px;background:#f7525f;"></div>
<div class="ptxt" style="left:1110.2px;top:157.70px;color:#fff;">26918.17</div>
<div class="plab" style="top:180.05px;height:47.75px;background:#089981;"></div>
<div class="ptxt" style="left:1110.2px;top:183.55px;color:#fff;">26686.52</div>
<div class="ptxt" style="left:1110.6px;top:205.40px;color:#b4e0d8;letter-spacing:-0.2px;">10:50:52</div>
<div class="ptxt" style="left:1110.2px;top:235.40px;color:#b2b5be;">23000.00</div>
<div class="ptxt" style="left:1110.2px;top:301.35px;color:#b2b5be;">19000.00</div>
<div class="ptxt" style="left:1110.2px;top:360.90px;color:#b2b5be;">16000.00</div>
<div class="ptxt" style="left:1110.2px;top:406.65px;color:#b2b5be;">14000.00</div>
<div class="ptxt" style="left:1110.2px;top:453.15px;color:#b2b5be;">12250.00</div>

<!-- time axis -->
<div class="tl" style="left:110.5px;">Sep</div>
<div class="tl" style="left:261px;">Nov</div>
<div class="tl" style="left:411.4px;font-weight:bold;letter-spacing:1px;">2023</div>
<div class="tl" style="left:556px;">Mar</div>
<div class="tl" style="left:706.2px;">May</div>
<div class="tl" style="left:857.5px;">Jul</div>
<div class="tl" style="left:1009.5px;">Sep</div>

<div id="sep"></div>
<div id="bar">
 <div class="wr dim" style="left:72px;top:-15px;width:127px;overflow:hidden;"><span class="sq" style="transform:scaleX(0.93)">BABYDOGECOINUSDT</span></div>
 <div class="wr dim" style="left:238px;top:-15px;">4h</div>
 <div class="wr sel" style="left:70.2px;top:22.7px;transform:scaleX(0.942);transform-origin:0 0;">BTCUSDT</div>
 <div class="wr sel" style="left:235.4px;top:22.7px;transform:scaleX(0.98);transform-origin:0 0;">1D</div>
 <div class="wr dim" style="left:70.2px;top:58.2px;transform:scaleX(0.922);transform-origin:0 0;">DOGEUSDT</div>
 <div class="wr dim" style="left:231.5px;top:58.2px;transform:scaleX(1.04);transform-origin:0 0;">1W</div>
 <div class="abs" style="left:0;top:0;width:320px;height:14px;background:linear-gradient(180deg,rgba(0,0,0,0.2),rgba(0,0,0,0));"></div>
 <div class="abs" style="left:0;top:56px;width:320px;height:17px;background:linear-gradient(180deg,rgba(0,0,0,0),rgba(0,0,0,0.75));"></div>
</div>
<svg class="abs" style="left:0;top:0;pointer-events:none" width="1200" height="600" viewBox="0 0 1200 600">
<g>
<circle cx="43.4" cy="568.4" r="9.3" fill="#0f8f8f"/>
<g transform="translate(44.6 569.4) rotate(-33)"><rect x="-4.7" y="-2.7" width="9.4" height="5.4" fill="#fff"/><circle cx="-1.6" cy="0" r="1.2" fill="#0f8f8f"/><circle cx="1.9" cy="0" r="1.2" fill="#0f8f8f"/></g>
<circle cx="33.7" cy="558.7" r="11.3" fill="#000"/>
<circle cx="33.7" cy="558.7" r="9.3" fill="#f0901e"/>
<g transform="rotate(13 33.7 558.7)">
<text x="33.9" y="562.6" font-family="Liberation Sans, sans-serif" font-weight="bold" font-size="10.8" fill="#fff" text-anchor="middle">B</text>
<path d="M32.4 553.4V555.2M35 553.4V555.2M32.4 562.2V564M35 562.2V564" stroke="#fff" stroke-width="1.1"/>
</g>
</g>
<g fill="none" stroke="#d1d4dc" stroke-width="1.9" stroke-linecap="round" stroke-linejoin="round">
<!-- pencil -->
<path d="M506.6 546.6L512.3 552.2L497 568.6L489.6 569.6L490.4 562.4Z"/>
<path d="M491.6 562.8L496.8 568"/>
<path d="M487.8 571.4C483.5 572.8 482.2 576 484 577.8C486.3 580 490 578 494 575.6C499.5 572.4 506.5 571.8 511.8 578.8"/>
<!-- fx -->
<path d="M575.6 552.6C575.2 550.6 573.6 549.4 571.6 549.4C569.2 549.4 567.6 551 567.6 553.6V566.6C567.6 569.6 565.8 571.4 563.4 571.4C561.2 571.4 559.8 570.2 559.5 568.4"/>
<path d="M562 558.5H574.4"/>
<path d="M572 567.6L580 576.2M580 567.6L572 576.2"/>
<!-- alarm -->
<path d="M655.1 565.6A12 12 0 1 0 642.6 576.4"/>
<path d="M629.6 558.8A6.5 6.5 0 0 1 640.2 551.7"/>
<path d="M646 551.7A6.5 6.5 0 0 1 656.6 558.8"/>
<path d="M643.1 555V564.4H637.5"/>
<path d="M653.1 566.3V578.7M646.9 572.5H659.3"/>
<!-- plus circle -->
<circle cx="718.1" cy="563.5" r="14.2"/>
<path d="M718.1 555V572M709.6 563.5H726.6"/>
<!-- grid -->
<rect x="778.7" y="551.4" width="10.4" height="9.6" rx="2.8"/>
<rect x="792.6" y="551.4" width="10.4" height="9.6" rx="2.8"/>
<rect x="778.7" y="565.6" width="10.4" height="9.6" rx="2.8"/>
<rect x="792.6" y="565.6" width="10.4" height="9.6" rx="2.8"/>
<!-- bulb -->
<path d="M856.6 571.2H870V567.6A11.8 11.8 0 1 0 856.6 567.6Z"/>
<path d="M856.4 575H870.2M860 579.4H866.6"/>
<!-- share -->
<path d="M933 555.6H928.4A4 4 0 0 0 924.4 559.6V575.4A4 4 0 0 0 928.4 579.4H946.2A4 4 0 0 0 950.2 575.4V559.6A4 4 0 0 0 946.2 555.6H941.8"/>
<path d="M937.3 568.6V545.8M931.3 551.9L937.3 545.8L943.2 551.9"/>
<!-- calendar -->
<path d="M1006 574.8H1000A3 3 0 0 1 997 571.8V555A3 3 0 0 1 1000 552H1019.4A3 3 0 0 1 1022.4 555V561.2"/>
<path d="M997 558.2H1022.4M1004.4 549.5V554.2M1015.6 549.5V554.2"/>
<path d="M1010.4 570H1026M1014.6 565.6L1010.2 570L1014.6 574.4M1021.6 565.6L1026 570L1021.6 574.4"/>
<!-- candles -->
<rect x="1076.5" y="554.6" width="6" height="17.6" rx="0.6"/>
<path d="M1079.5 550.4V554.4M1079.5 572.4V576"/>
<rect x="1086.9" y="558.3" width="5.8" height="10.2" rx="0.6"/>
<path d="M1089.8 554.6V558.2M1089.8 568.6V572.2"/>
</g>
<g fill="#d1d4dc"><circle cx="1146.5" cy="563.5" r="3.2"/><circle cx="1157.2" cy="563.5" r="3.2"/><circle cx="1167.9" cy="563.5" r="3.2"/></g>
</svg>
</body></html>
